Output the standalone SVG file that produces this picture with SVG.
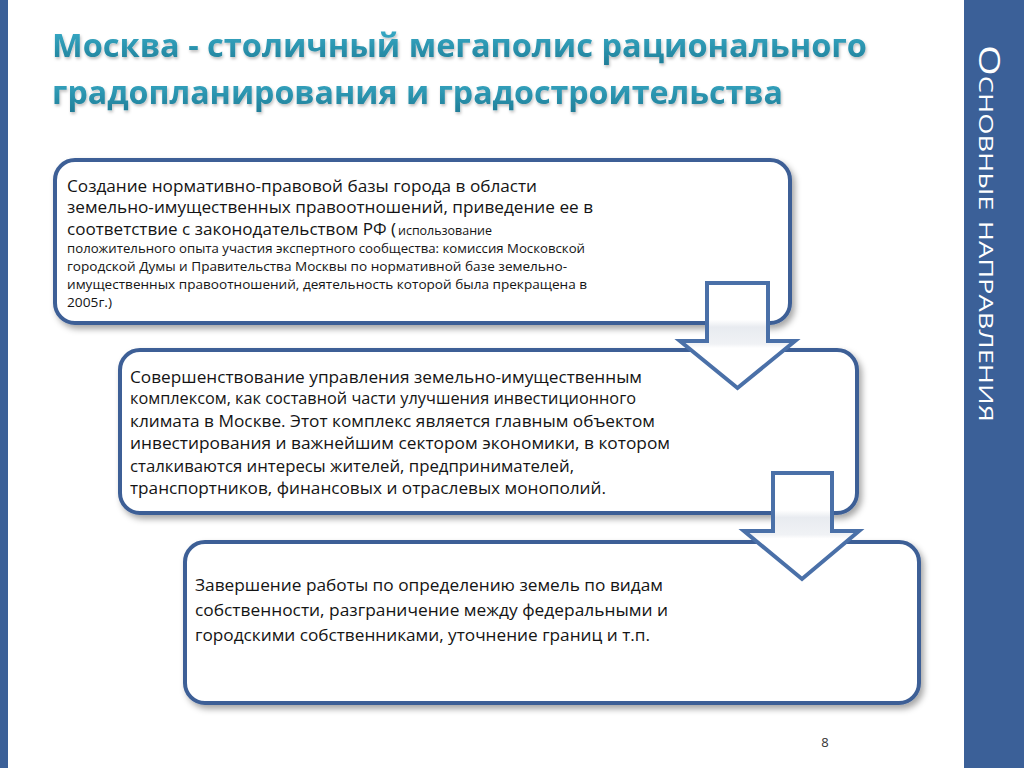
<svg xmlns="http://www.w3.org/2000/svg" width="1024" height="768" viewBox="0 0 1024 768">
<defs>
<style>
.box{fill:#ffffff;stroke:#3d5f96;stroke-width:4;filter:url(#sh)}
.arr{fill:url(#ag);stroke:#4a70a8;stroke-width:4;stroke-linejoin:miter}
.t{font-family:"Open Sans","Liberation Sans",sans-serif;font-size:17px;fill:#141414}
.s{font-family:"Open Sans","Liberation Sans",sans-serif;font-size:12.5px;fill:#141414}
.ttl{font-family:"Open Sans","Liberation Sans",sans-serif;font-size:32px;font-weight:bold;fill:url(#tg);filter:url(#tsh)}
</style>
<linearGradient id="tg" x1="0" y1="0" x2="0" y2="1">
<stop offset="0" stop-color="#3cb3cf"/>
<stop offset="1" stop-color="#1f7c96"/>
</linearGradient>
<linearGradient id="ag" x1="0" y1="0" x2="0" y2="1">
<stop offset="0" stop-color="#ffffff"/>
<stop offset="0.35" stop-color="#ffffff"/>
<stop offset="0.42" stop-color="#e8ebf0"/>
<stop offset="0.58" stop-color="#f0f2f5"/>
<stop offset="0.62" stop-color="#ffffff"/>
<stop offset="1" stop-color="#ffffff"/>
</linearGradient>
<filter id="sh" x="-5%" y="-10%" width="112%" height="125%">
<feDropShadow dx="3" dy="4" stdDeviation="3" flood-color="#000" flood-opacity="0.35"/>
</filter>
<filter id="tsh" x="-5%" y="-20%" width="110%" height="150%">
<feDropShadow dx="1" dy="2" stdDeviation="1.5" flood-color="#000" flood-opacity="0.25"/>
</filter>
</defs>
<rect x="0" y="0" width="1024" height="768" fill="#ffffff"/>
<rect x="0" y="0" width="8" height="768" fill="#3b6098"/>
<g id="sidebar">
<rect x="964" y="0" width="60" height="768" fill="#3b6098"/>
<text transform="translate(979,45) rotate(90)" font-family="'Open Sans','Liberation Sans',sans-serif" font-size="29" font-variant="small-caps" fill="#ffffff" textLength="377" lengthAdjust="spacingAndGlyphs">Основные направления</text>
</g>
<g id="title">
<text class="ttl" x="52" y="57" textLength="815" lengthAdjust="spacingAndGlyphs">Москва - столичный мегаполис рационального</text>
<text class="ttl" x="52" y="104" textLength="731" lengthAdjust="spacingAndGlyphs">градопланирования и градостроительства</text>
</g>
<g id="node1">
<rect class="box" x="55" y="160" width="735" height="163" rx="20"/>
<text class="t" x="67" y="192" textLength="470" lengthAdjust="spacingAndGlyphs">Создание нормативно-правовой базы города в области</text>
<text class="t" x="67" y="213" textLength="526" lengthAdjust="spacingAndGlyphs">земельно-имущественных правоотношений, приведение ее в</text>
<text class="t" x="67" y="235" textLength="329" lengthAdjust="spacingAndGlyphs">соответствие с законодательством РФ (</text>
<text class="s" x="398" y="235" textLength="94" lengthAdjust="spacingAndGlyphs">использование</text>
<text class="s" x="67" y="253" textLength="518" lengthAdjust="spacingAndGlyphs">положительного опыта участия экспертного сообщества: комиссия Московской</text>
<text class="s" x="67" y="271" textLength="500" lengthAdjust="spacingAndGlyphs">городской Думы и Правительства Москвы по нормативной базе земельно-</text>
<text class="s" x="67" y="289" textLength="520" lengthAdjust="spacingAndGlyphs">имущественных правоотношений,  деятельность которой была прекращена в</text>
<text class="s" x="67" y="307" textLength="45" lengthAdjust="spacingAndGlyphs">2005г.)</text>
</g>
<g id="node2">
<rect class="box" x="120" y="350" width="737" height="163" rx="20"/>
<text class="t" x="130" y="383" textLength="512" lengthAdjust="spacingAndGlyphs">Совершенствование управления земельно-имущественным</text>
<text class="t" x="130" y="404" textLength="506" lengthAdjust="spacingAndGlyphs">комплексом, как составной части улучшения инвестиционного</text>
<text class="t" x="130" y="427" textLength="525" lengthAdjust="spacingAndGlyphs">климата в Москве. Этот комплекс является главным объектом</text>
<text class="t" x="130" y="449" textLength="540" lengthAdjust="spacingAndGlyphs">инвестирования и важнейшим сектором экономики, в котором</text>
<text class="t" x="130" y="472" textLength="444" lengthAdjust="spacingAndGlyphs">сталкиваются интересы жителей, предпринимателей,</text>
<text class="t" x="130" y="494" textLength="476" lengthAdjust="spacingAndGlyphs">транспортников, финансовых и отраслевых монополий.</text>
</g>
<g id="node3">
<rect class="box" x="185" y="542" width="734" height="161" rx="20"/>
<text class="t" x="195" y="591" textLength="468" lengthAdjust="spacingAndGlyphs">Завершение работы по определению земель по видам</text>
<text class="t" x="195" y="616" textLength="473" lengthAdjust="spacingAndGlyphs">собственности, разграничение между федеральными и</text>
<text class="t" x="195" y="641" textLength="455" lengthAdjust="spacingAndGlyphs">городскими собственниками, уточнение границ и т.п.</text>
</g>
<g id="connectors">
<path class="arr" d="M707,283 H768 V341 H795 L737.5,388 L680,341 H707 Z"/>
<path class="arr" d="M773,473 H832 V531 H859 L802,579 L744,531 H773 Z"/>
</g>
<text x="825" y="747" font-family="'Open Sans','Liberation Sans',sans-serif" font-size="13" fill="#333333" text-anchor="middle">8</text>
</svg>
